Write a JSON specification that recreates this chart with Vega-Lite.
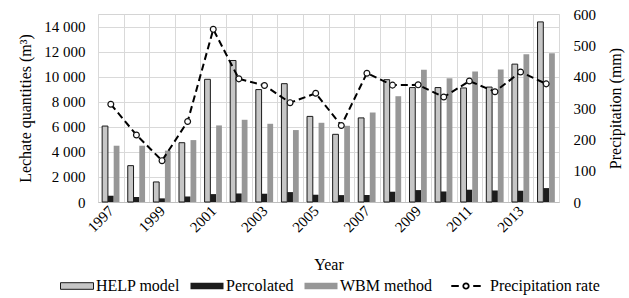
{
  "$schema": "https://vega.github.io/schema/vega-lite/v6.json",
  "width": 461,
  "height": 188,
  "autosize": {"type": "none"},
  "padding": {"left": 98, "top": 14, "right": 70, "bottom": 96},
  "background": "white",
  "config": {
    "view": {"stroke": "#d4d4d4", "strokeWidth": 1}
  },
  "datasets": {
    "bars": [
      {"year": 1997, "series": "HELP model", "value": 6060}, {"year": 1997, "series": "Percolated", "value": 500}, {"year": 1997, "series": "WBM method", "value": 4490},
      {"year": 1998, "series": "HELP model", "value": 2900}, {"year": 1998, "series": "Percolated", "value": 400}, {"year": 1998, "series": "WBM method", "value": 4490},
      {"year": 1999, "series": "HELP model", "value": 1600}, {"year": 1999, "series": "Percolated", "value": 290}, {"year": 1999, "series": "WBM method", "value": 4100},
      {"year": 2000, "series": "HELP model", "value": 4730}, {"year": 2000, "series": "Percolated", "value": 440}, {"year": 2000, "series": "WBM method", "value": 4940},
      {"year": 2001, "series": "HELP model", "value": 9790}, {"year": 2001, "series": "Percolated", "value": 630}, {"year": 2001, "series": "WBM method", "value": 6110},
      {"year": 2002, "series": "HELP model", "value": 11290}, {"year": 2002, "series": "Percolated", "value": 680}, {"year": 2002, "series": "WBM method", "value": 6560},
      {"year": 2003, "series": "HELP model", "value": 8970}, {"year": 2003, "series": "Percolated", "value": 660}, {"year": 2003, "series": "WBM method", "value": 6240},
      {"year": 2004, "series": "HELP model", "value": 9440}, {"year": 2004, "series": "Percolated", "value": 790}, {"year": 2004, "series": "WBM method", "value": 5740},
      {"year": 2005, "series": "HELP model", "value": 6830}, {"year": 2005, "series": "Percolated", "value": 580}, {"year": 2005, "series": "WBM method", "value": 6320},
      {"year": 2006, "series": "HELP model", "value": 5400}, {"year": 2006, "series": "Percolated", "value": 550}, {"year": 2006, "series": "WBM method", "value": 6080},
      {"year": 2007, "series": "HELP model", "value": 6710}, {"year": 2007, "series": "Percolated", "value": 560}, {"year": 2007, "series": "WBM method", "value": 7140},
      {"year": 2008, "series": "HELP model", "value": 9760}, {"year": 2008, "series": "Percolated", "value": 820}, {"year": 2008, "series": "WBM method", "value": 8440},
      {"year": 2009, "series": "HELP model", "value": 9130}, {"year": 2009, "series": "Percolated", "value": 950}, {"year": 2009, "series": "WBM method", "value": 10560},
      {"year": 2010, "series": "HELP model", "value": 9130}, {"year": 2010, "series": "Percolated", "value": 840}, {"year": 2010, "series": "WBM method", "value": 9870},
      {"year": 2011, "series": "HELP model", "value": 9100}, {"year": 2011, "series": "Percolated", "value": 980}, {"year": 2011, "series": "WBM method", "value": 10420},
      {"year": 2012, "series": "HELP model", "value": 9170}, {"year": 2012, "series": "Percolated", "value": 920}, {"year": 2012, "series": "WBM method", "value": 10580},
      {"year": 2013, "series": "HELP model", "value": 11000}, {"year": 2013, "series": "Percolated", "value": 900}, {"year": 2013, "series": "WBM method", "value": 11790},
      {"year": 2014, "series": "HELP model", "value": 14370}, {"year": 2014, "series": "Percolated", "value": 1110}, {"year": 2014, "series": "WBM method", "value": 11870}
    ],
    "precip": [
      {"year": 1997, "series": "Precipitation rate", "value": 312},
      {"year": 1998, "series": "Precipitation rate", "value": 214},
      {"year": 1999, "series": "Precipitation rate", "value": 132},
      {"year": 2000, "series": "Precipitation rate", "value": 257},
      {"year": 2001, "series": "Precipitation rate", "value": 551},
      {"year": 2002, "series": "Precipitation rate", "value": 393},
      {"year": 2003, "series": "Precipitation rate", "value": 372},
      {"year": 2004, "series": "Precipitation rate", "value": 317},
      {"year": 2005, "series": "Precipitation rate", "value": 347},
      {"year": 2006, "series": "Precipitation rate", "value": 244},
      {"year": 2007, "series": "Precipitation rate", "value": 411},
      {"year": 2008, "series": "Precipitation rate", "value": 373},
      {"year": 2009, "series": "Precipitation rate", "value": 374},
      {"year": 2010, "series": "Precipitation rate", "value": 335},
      {"year": 2011, "series": "Precipitation rate", "value": 386},
      {"year": 2012, "series": "Precipitation rate", "value": 352},
      {"year": 2013, "series": "Precipitation rate", "value": 415},
      {"year": 2014, "series": "Precipitation rate", "value": 377}
    ]
  },
  "layer": [
    {
      "data": {"name": "bars"},
      "mark": {"type": "bar", "strokeWidth": 1},
      "encoding": {
        "x": {
          "field": "year", "type": "ordinal",
          "scale": {"paddingInner": 0, "paddingOuter": 0},
          "axis": {
            "title": "Year", "titleFontSize": 16, "titleFont": "Liberation Serif", "titleFontWeight": "normal", "titleColor": "black", "titleBaseline": "middle", "titleY": 62,
            "labelAngle": -45, "labelAlign": "right", "labelBaseline": "middle", "labelFontSize": 15, "labelFont": "Liberation Serif", "labelColor": "black",
            "labelPadding": 6, "labelOverlap": false,
            "labelExpr": "datum.value % 2 === 1 ? datum.label : ''",
            "ticks": false, "tickBand": "extent", "grid": true, "gridColor": "#d9d9d9",
            "domainColor": "#bfbfbf"
          }
        },
        "xOffset": {
          "field": "series", "type": "nominal",
          "sort": ["HELP model", "Percolated", "WBM method"],
          "scale": {"paddingInner": 0, "paddingOuter": 0.72}
        },
        "y": {
          "field": "value", "type": "quantitative",
          "scale": {"domain": [0, 15000], "nice": false},
          "axis": {
            "title": "Lechate quantities (m³)", "titleFontSize": 16, "titleFont": "Liberation Serif", "titleFontWeight": "normal", "titleColor": "black", "titleX": -73, "titleY": 94,
            "titleAngle": -90, "titleBaseline": "middle", "titleAlign": "center",
            "values": [0, 2000, 4000, 6000, 8000, 10000, 12000, 14000],
            "labelExpr": "replace(format(datum.value, ','), ',', ' ')",
            "labelFontSize": 15, "labelFont": "Liberation Serif", "labelColor": "black", "labelPadding": 13, "ticks": false, "domain": false,
            "grid": true, "gridColor": "#d9d9d9"
          }
        },
        "fill": {
          "field": "series", "type": "nominal",
          "scale": {
            "domain": ["HELP model", "Percolated", "WBM method"],
            "range": ["#c6c6c6", "#1c1c1c", "#979797"]
          },
          "legend": {
            "orient": "none", "legendX": -38, "legendY": 255, "direction": "horizontal",
            "title": null, "symbolSize": 1089, "symbolType": "M-1,-0.2H1V0.2H-1Z", "symbolStrokeWidth": 1,
            "labelFontSize": 16, "labelFont": "Liberation Serif",
            "labelColor": "black", "labelOffset": 2, "columnPadding": 8
          }
        },
        "stroke": {
          "field": "series", "type": "nominal",
          "scale": {
            "domain": ["HELP model", "Percolated", "WBM method"],
            "range": ["#1a1a1a", "transparent", "transparent"]
          },
          "legend": {
            "orient": "none", "legendX": -38, "legendY": 255, "direction": "horizontal",
            "title": null, "symbolSize": 1089, "symbolType": "M-1,-0.2H1V0.2H-1Z", "symbolStrokeWidth": 1,
            "labelFontSize": 16, "labelFont": "Liberation Serif",
            "labelColor": "black", "labelOffset": 2, "columnPadding": 8
          }
        }
      }
    },
    {
      "data": {"name": "precip"},
      "encoding": {
        "x": {
          "field": "year", "type": "ordinal",
          "axis": {
            "title": "Year", "titleFontSize": 16, "titleFont": "Liberation Serif", "titleFontWeight": "normal", "titleColor": "black", "titleBaseline": "middle", "titleY": 62,
            "labelAngle": -45, "labelAlign": "right", "labelBaseline": "middle", "labelFontSize": 15, "labelFont": "Liberation Serif", "labelColor": "black",
            "labelPadding": 6, "labelOverlap": false,
            "labelExpr": "datum.value % 2 === 1 ? datum.label : ''",
            "ticks": false, "tickBand": "extent", "grid": true, "gridColor": "#d9d9d9",
            "domainColor": "#bfbfbf"
          }
        },
        "y": {
          "field": "value", "type": "quantitative",
          "scale": {"domain": [0, 600], "nice": false},
          "axis": {
            "orient": "right", "title": "Precipitation (mm)", "titleFontSize": 16, "titleFont": "Liberation Serif", "titleFontWeight": "normal", "titleColor": "black",
            "titleX": 56, "titleY": 94, "titleAngle": -90, "titleBaseline": "middle", "titleAlign": "center",
            "values": [0, 100, 200, 300, 400, 500, 600], "labelFontSize": 15, "labelFont": "Liberation Serif", "labelColor": "black", "labelPadding": 14,
            "ticks": false, "domain": false, "grid": false
          }
        }
      },
      "layer": [
        {
          "mark": {"type": "line", "strokeDash": [7, 4], "strokeWidth": 2},
          "encoding": {
            "color": {
              "field": "series", "type": "nominal",
              "scale": {"domain": ["Precipitation rate"], "range": ["#000000"]},
              "legend": {
                "orient": "none", "legendX": 351, "legendY": 255, "direction": "horizontal",
                "title": null, "symbolSize": 1024,
                "symbolType": "M-0.92,0H-0.45M0.45,0H0.92M0.17,0A0.17,0.17 0 1,1 -0.17,0A0.17,0.17 0 1,1 0.17,0",
                "symbolFillColor": "white", "symbolStrokeColor": "#1a1a1a", "symbolStrokeWidth": 1.8, "symbolDash": [],
                "labelFontSize": 16, "labelFont": "Liberation Serif",
                "labelColor": "black", "labelOffset": 7
              }
            }
          }
        },
        {
          "mark": {"type": "point", "shape": "circle", "filled": true, "fill": "white", "stroke": "#111111", "strokeWidth": 1.2, "size": 34, "opacity": 1},
          "encoding": {}
        }
      ]
    }
  ],
  "resolve": {"scale": {"y": "independent"}}
}
